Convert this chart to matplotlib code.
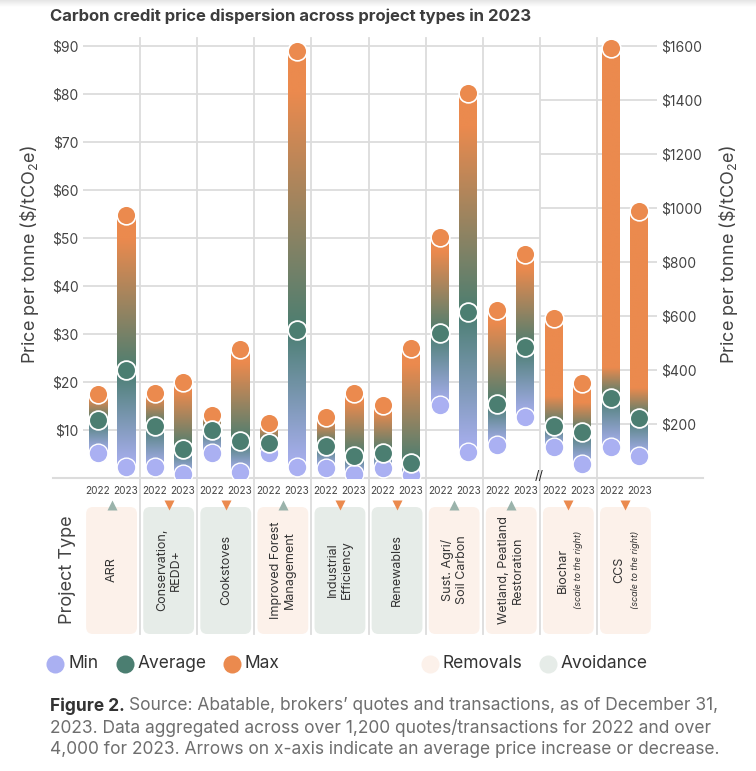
import numpy as np
import matplotlib
matplotlib.use("Agg")
import matplotlib.pyplot as plt
from matplotlib.patches import FancyBboxPatch
from matplotlib.colors import to_rgb

plt.rcParams['font.family'] = ['Inter', 'DejaVu Sans']
plt.rcParams['mathtext.fontset'] = 'custom'
plt.rcParams['mathtext.rm'] = 'Inter'
plt.rcParams['mathtext.it'] = 'Inter:italic'

# ---- data ----
projects = ["ARR", "Conservation,\nREDD+", "Cookstoves", "Improved Forest\nManagement",
            "Industrial\nEfficiency", "Renewables", "Sust. Agri/\nSoil Carbon",
            "Wetland, Peatland\nRestoration", "Biochar", "CCS"]
kind = ["Removals", "Avoidance", "Avoidance", "Removals", "Avoidance", "Avoidance",
        "Removals", "Removals", "Removals", "Removals"]
trend = ["up", "down", "down", "up", "down", "down", "up", "up", "down", "down"]
right_scale = [False, False, False, False, False, False, False, False, True, True]
years = ["2022", "2023"]

min_2022 = [5.3, 2.2, 5.2, 5.3, 2.0, 2.0, 15.3, 6.9, 115, 115]
avg_2022 = [12.1, 10.9, 10.0, 7.3, 6.7, 5.2, 30.3, 15.4, 192, 298]
max_2022 = [17.4, 17.8, 13.2, 11.4, 12.8, 15.3, 50.2, 35.1, 593, 1591]
min_2023 = [2.3, 0.8, 1.3, 2.2, 0.8, 0.6, 5.5, 12.8, 53, 82]
avg_2023 = [22.4, 6.0, 7.7, 30.8, 4.6, 3.2, 34.6, 27.3, 171, 223]
max_2023 = [54.8, 20.1, 26.8, 89.0, 17.7, 27.1, 80.2, 46.6, 353, 990]

left_ticks = [10, 20, 30, 40, 50, 60, 70, 80, 90]
right_ticks = [200, 400, 600, 800, 1000, 1200, 1400, 1600]

# colours
C_MIN = '#AAB0F2'
C_AVG = '#4B7E71'
C_MAX = '#EB8A4E'
C_REM = '#FCF1EA'
C_AVO = '#E6ECE8'
C_UP = '#9AB3AB'
GRID = '#DCDCDC'
TXT = '#444444'

W, H = 756, 771
fig = plt.figure(figsize=(W / 100, H / 100), dpi=100)

def px_axes(l, t, r, b):
    return [l / W, 1 - b / H, (r - l) / W, (b - t) / H]

# overlay in pixel coordinates
ov = fig.add_axes([0, 0, 1, 1], zorder=0)
ov.set_xlim(0, W)
ov.set_ylim(H, 0)
ov.axis('off')

GL, GR = 83, 657          # plot left / right pixel
GW = 57.1                 # group width in px
XMAX = (GR - GL) / GW
YTOP = (478 - 38) / 4.8   # left-axis top value

ax = fig.add_axes(px_axes(GL, 38, GR, 478), zorder=2)
ax.patch.set_alpha(0)
ax2 = ax.twinx()
ax2.set_zorder(3)
ax2.patch.set_alpha(0)

bot = fig.add_axes(px_axes(GL, 478, GR, 640), zorder=2)
bot.patch.set_alpha(0)
bot.set_xlim(0, XMAX)
bot.set_ylim(640, 478)
bot.axis('off')

# top shadow
shade = np.linspace(0.9, 1.0, 20).reshape(-1, 1)
ov.imshow(np.dstack([shade] * 3), extent=(0, W, 7, 0), aspect='auto', zorder=0)

# group separators
for k in range(1, 10):
    x = GL + k * GW
    ov.plot([x, x], [38, 634], color=GRID, lw=1.3, zorder=1)
# baseline
ov.plot([53, 703], [478, 478], color=GRID, lw=1.5, zorder=1)
ov.text(539, 477, "//", fontsize=9, ha='center', va='center', color='#222222', zorder=5)

# gridlines
ax.hlines(left_ticks, 0, 8, color=GRID, lw=1.3, zorder=0)
ax2.hlines(right_ticks, 8, XMAX, color=GRID, lw=1.3, zorder=0)

cmin, cavg, cmax = (np.array(to_rgb(c)) for c in (C_MIN, C_AVG, C_MAX))

def gradient(lo, mid, hi, top):
    v = np.linspace(lo, hi, 300)
    out = np.zeros((len(v), 3))
    for i, val in enumerate(v):
        if val <= mid:
            f = (val - lo) / (mid - lo) if mid > lo else 1
            out[i] = cmin + (cavg - cmin) * f
        elif val <= top:
            f = (val - mid) / (top - mid)
            out[i] = cavg + (cmax - cavg) * f
        else:
            out[i] = cmax
    return out.reshape(-1, 1, 3)

BW = 18 / GW
OFF = 14 / GW
mins = [min_2022, min_2023]
avgs = [avg_2022, avg_2023]
maxs = [max_2022, max_2023]

for i in range(len(projects)):
    c = i + 0.5
    a = ax2 if right_scale[i] else ax
    for j, sgn in enumerate([-1, 1]):
        x = c + sgn * OFF
        lo, mid, hi = mins[j][i], avgs[j][i], maxs[j][i]
        if right_scale[i]:
            top = min(hi, mid + 110)
        else:
            top = mid + 0.85 * (hi - mid)
        a.imshow(gradient(lo, mid, hi, top), extent=(x - BW / 2, x + BW / 2, lo, hi),
                 origin='lower', aspect='auto', interpolation='bilinear', zorder=2)
        a.plot(x, hi, 'o', ms=13.5, mfc=C_MAX, mec='white', mew=1.2, zorder=3)
        a.plot(x, lo, 'o', ms=13.5, mfc=C_MIN, mec='white', mew=1.0, zorder=3)
        a.plot(x, mid, 'o', ms=13.5, mfc=C_AVG, mec='white', mew=1.3, zorder=4)
        bot.text(x, 491, years[j], fontsize=7.2, ha='center', va='center', color=TXT)

    # project type box
    box = FancyBboxPatch((c - 0.445, 507), 0.89, 127,
                         boxstyle="round,pad=0,rounding_size=0.12",
                         mutation_aspect=57, facecolor=C_REM if kind[i] == "Removals" else C_AVO,
                         edgecolor='none', zorder=1)
    bot.add_patch(box)
    if trend[i] == "up":
        bot.plot(c, 505, '^', ms=7, color=C_UP, mec='none', zorder=3)
    else:
        bot.plot(c, 505, 'v', ms=7, color=C_MAX, mec='none', zorder=3)
    if right_scale[i]:
        bot.text(c - 0.1, 570, projects[i], rotation=90, fontsize=9, ha='center',
                 va='center', color='#333333')
        bot.text(c + 0.18, 570, "(scale to the right)", rotation=90, fontsize=6.5,
                 style='italic', ha='center', va='center', color='#333333')
    else:
        bot.text(c, 570, projects[i], rotation=90, fontsize=9, ha='center',
                 va='center', color='#333333', linespacing=1.2, multialignment='center')

ax.set_xlim(0, XMAX)
ax.set_ylim(0, YTOP)
ax2.set_ylim(0, YTOP * 1600 / 90)
ax2.set_xlim(0, XMAX)
ax.set_xticks([])
ax.set_yticks(left_ticks)
ax.set_yticklabels([f"${t}" for t in left_ticks])
ax2.set_yticks(right_ticks)
ax2.set_yticklabels([f"${t}" for t in right_ticks])
ax.tick_params(axis='y', length=0, pad=3, labelsize=10, labelcolor=TXT)
ax2.tick_params(axis='y', length=0, pad=3, labelsize=10, labelcolor=TXT)
for s in list(ax.spines.values()) + list(ax2.spines.values()):
    s.set_visible(False)

# axis labels
ylab = r"Price per tonne (\$/tCO$_2$e)"
ov.text(30, 255, ylab, rotation=90, fontsize=13, ha='center', va='center', color=TXT)
ov.text(729, 255, ylab, rotation=90, fontsize=13, ha='center', va='center', color=TXT)
ov.text(67, 570, "Project Type", rotation=90, fontsize=13, ha='center', va='center', color=TXT)

# title
ov.text(50, 16, "Carbon credit price dispersion across project types in 2023",
        fontsize=12, fontweight='bold', ha='left', va='center', color='#3d3d3d')

# legend
legend_items = [(55, C_MIN, "Min"), (125, C_AVG, "Average"), (232, C_MAX, "Max"),
                (430, C_REM, "Removals"), (548, C_AVO, "Avoidance")]
for x, col, lab in legend_items:
    ov.plot(x, 664, 'o', ms=13, mfc=col, mec='none')
    ov.text(x + 13, 664, lab, fontsize=12.5, ha='left', va='center', color='#333333')

# caption
renderer = fig.canvas.get_renderer()
t0 = ov.text(50, 706, "Figure 2.", fontsize=12.5, fontweight='bold', ha='left',
             va='center', color='#333333')
x_end = t0.get_window_extent(renderer).x1
ov.text(x_end + 4, 706, "Source: Abatable, brokers\u2019 quotes and transactions, as of December 31,",
        fontsize=12.5, ha='left', va='center', color='#6e6e6e')
ov.text(50, 728, "2023. Data aggregated across over 1,200 quotes/transactions for 2022 and over",
        fontsize=12.5, ha='left', va='center', color='#6e6e6e')
ov.text(50, 750, "4,000 for 2023. Arrows on x-axis indicate an average price increase or decrease.",
        fontsize=12.5, ha='left', va='center', color='#6e6e6e')

fig.savefig("out.png", dpi=100)
